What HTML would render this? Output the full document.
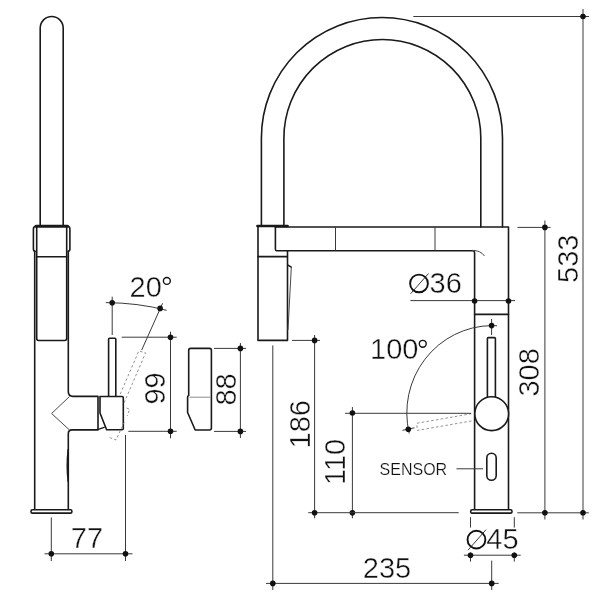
<!DOCTYPE html>
<html>
<head>
<meta charset="utf-8">
<style>
html,body{margin:0;padding:0;background:#fff;}
body{width:600px;height:600px;overflow:hidden;}
svg{display:block;}
text{font-family:"Liberation Sans",sans-serif;fill:#111;stroke:#fff;stroke-width:0.4px;paint-order:fill stroke;}
.o{fill:none;stroke:#1a1a1a;stroke-width:1.6;stroke-linejoin:round;stroke-linecap:round;}
.of{fill:#fff;stroke:#1a1a1a;stroke-width:1.6;stroke-linejoin:round;}
.k{fill:none;stroke:#1a1a1a;stroke-width:3;stroke-linecap:round;}
.d{fill:none;stroke:#3a3a3a;stroke-width:1;}
.t{fill:none;stroke:#4a4a4a;stroke-width:1;}
.h{fill:none;stroke:#777;stroke-width:0.8;stroke-dasharray:2.6 2.2;}
.p{fill:#111;stroke:none;}
.oslash ellipse{fill:none;stroke:#111;stroke-width:1.9;}
.deg{fill:none;stroke:#111;stroke-width:1.4;}
.oslash path{fill:none;stroke:#222;stroke-width:0.9;}
</style>
</head>
<body>
<svg width="600" height="600" viewBox="0 0 600 600">
<rect width="600" height="600" fill="#fff"/>

<!-- ================= LEFT (side view) ================= -->
<g id="left">
  <!-- tube -->
  <path class="o" d="M40.2 226 V28 A11.5 11.5 0 0 1 63.2 28 V226"/>
  <!-- collar -->
  <path class="k" d="M36 226.3 H67.5"/>
  <path class="o" d="M36 226.3 Q33.4 226.6 33.4 229 V249 Q33.4 251.2 35.2 251.2 M67.5 226.3 Q69.9 226.6 69.9 229 V249 Q69.9 251.2 68.2 251.2"/>
  <path class="o" d="M36.7 227 V338.6 Q36.7 340.5 38.6 340.5 H64.8 Q66.7 340.5 66.7 338.6 V227"/>
  <path class="o" d="M36.7 256.8 H66.7"/>
  <!-- body outer -->
  <path class="o" d="M34.7 251.2 V509.5"/>
  <path class="o" d="M68.3 251.2 V391.5 Q68.3 396.4 73 396.4 H98 V429.9 H72 Q68.3 429.9 68.3 433.6 V509.5"/>
  <path class="o" d="M100 396.5 H122 Q123.3 396.5 123.3 397.8 V428.5 Q123.3 429.8 122 429.8 H106.6 L100 413 Z"/>
  <path class="o" d="M98.2 429.3 L104.2 427.3" style="stroke-width:1.4"/>
  <path class="o" d="M68.2 449.5 Q66.3 465.5 68.2 481.5" style="stroke-width:1.5"/>
  <!-- triangle -->
  <path class="t" d="M69.5 396.5 L51.6 413.5 L69.5 430"/>
  <!-- lever -->
  <path class="o" d="M108.6 396 V339.3 Q108.6 338.3 109.6 338.3 H114.8 Q115.8 338.3 115.8 339.3 V396"/>
  <!-- base plate -->
  <rect class="of" x="31" y="509.8" width="40.9" height="3.3" rx="1.4"/>
  <!-- dashed lever -->
  <path class="h" d="M120.3 394 L138.8 351 L145.6 352.8 L123.8 403.5 M126.5 408 L129.6 409.2 L127.2 416 M124.3 422 L116 440 L109.5 437.5"/>
  <!-- 20deg dim -->
  <path class="d" d="M112.2 296.7 V335"/>
  <path class="d" d="M162.6 303.3 L141.7 350"/>
  <path class="d" d="M105.8 302.6 Q138 302.8 166.7 310.3"/>
  <circle class="p" cx="112.2" cy="302.8" r="2.8"/>
  <circle class="p" cx="160.1" cy="308.4" r="2.8"/>
  <!-- 99 dim -->
  <path class="d" d="M121.7 337.2 H176.7 M128.3 431.3 H176.7 M170.5 331.7 V438.3"/>
  <circle class="p" cx="170.5" cy="337.2" r="2.8"/>
  <circle class="p" cx="170.5" cy="431.3" r="2.8"/>
  <!-- 77 dim -->
  <path class="d" d="M51.3 517.5 V561 M125.5 435 V561 M44.5 553.8 H132.5"/>
  <circle class="p" cx="51.3" cy="553.8" r="2.8"/>
  <circle class="p" cx="125.5" cy="553.8" r="2.8"/>
</g>

<!-- ================= MIDDLE piece ================= -->
<g id="mid">
  <path class="o" d="M188.7 395.4 V350.4 Q188.7 348.4 190.7 348.4 H209.4 Q211.4 348.4 211.4 350.4 V428 Q211.4 430 209.4 430 H195.2 L187.6 412.5 V397 Q187.6 395.8 188.7 395.4"/>
  <path class="t" d="M189.5 397.2 H210.5" style="stroke:#8a8a8a"/>
  <path class="d" d="M214 348.4 H246 M214 431.4 H246 M240.4 343 V438"/>
  <circle class="p" cx="240.4" cy="348.4" r="2.8"/>
  <circle class="p" cx="240.4" cy="431.4" r="2.8"/>
</g>

<!-- ================= RIGHT (front view) ================= -->
<g id="right">
  <!-- arch -->
  <path class="o" d="M261.4 226 V138 A120.55 120.55 0 0 1 502.5 138 V227"/>
  <path class="o" d="M283.9 226 V138 A98.45 98.45 0 0 1 480.8 138 V227"/>
  <!-- cap -->
  <path class="k" d="M257.4 226.05 H287.6" style="stroke-width:2.5"/>
  <!-- arm + body -->
  <path class="o" d="M275.4 227 H508.5 V509.5"/>
  <path class="o" d="M275.4 227 V249 Q275.4 250.8 276.6 250.8 H472.4 Q474.6 250.8 474.6 253 V509.5"/>
  <path class="d" d="M335.5 227 V250.5 M435 227 V250.5"/>
  <path class="t" d="M472 250.3 Q480.5 250.3 484.5 256"/>
  <path class="o" d="M474.6 314.4 H508.5"/>
  <!-- spray head -->
  <path class="o" d="M258 226.5 V340.4 H287.5 V250.8"/>
  <path class="o" d="M258 256.6 H287"/>
  <path class="o" d="M287.6 264.8 L291.3 267.2" style="stroke-width:1.4"/>
  <path class="t" d="M291.3 267.2 L288 330"/>
  <!-- lever -->
  <path class="o" d="M487.4 398 V338.6 Q487.4 337.6 488.4 337.6 H494.4 Q495.4 337.6 495.4 338.6 V398"/>
  <!-- dashed lever -->
  <path class="h" d="M471.5 413.7 L416.7 423.3 L417.3 430.4 L473 420.7"/>
  <circle class="of" cx="491.7" cy="413.7" r="16.9"/>
  <!-- sensor -->
  <rect class="o" x="486.8" y="453.2" width="9.4" height="27" rx="4.7"/>
  <path class="d" d="M456.5 468.8 H483"/>
  <!-- base plate -->
  <rect class="of" x="470.7" y="509.8" width="41.3" height="3.3" rx="1.4"/>

  <!-- O36 -->
  <path class="d" d="M410.4 300.6 H515"/>
  <circle class="p" cx="474.6" cy="301" r="2.8"/>
  <circle class="p" cx="508.5" cy="301" r="2.8"/>
  <!-- 100 deg arc -->
  <path class="d" d="M497 325.8 Q494 325.6 491.6 325.6 A85.6 87.4 0 0 0 409.2 433.5"/>
  <path class="d" d="M491.6 319 V335"/>
  <path class="d" d="M402.5 430.3 L414.5 427.8"/>
  <circle class="p" cx="491.6" cy="325.6" r="2.8"/>
  <circle class="p" cx="408.3" cy="429.3" r="2.8"/>
  <!-- 110 / 186 -->
  <path class="d" d="M345 413.3 H471 M352.4 407 V518.3"/>
  <circle class="p" cx="352.4" cy="413" r="2.8"/>
  <circle class="p" cx="352.4" cy="512.7" r="2.8"/>
  <path class="d" d="M292 340.4 H320 M314.6 335 V518.3 M308.3 512.7 H458.7"/>
  <circle class="p" cx="314.6" cy="340.4" r="2.8"/>
  <circle class="p" cx="314.6" cy="512.7" r="2.8"/>
  <!-- 308 / 533 -->
  <path class="d" d="M517.3 512.8 H588.8 M544.9 220.5 V519.5 M583 9 V519.5 M517.5 227.4 H550.5 M413.3 16.5 H589"/>
  <circle class="p" cx="544.9" cy="227.4" r="2.8"/>
  <circle class="p" cx="544.9" cy="512.8" r="2.8"/>
  <circle class="p" cx="583" cy="16.5" r="2.8"/>
  <circle class="p" cx="583" cy="512.8" r="2.8"/>
  <!-- O45 -->
  <path class="d" d="M470.5 517.2 V527.6 M470.5 552.4 V561.6 M514.3 517.2 V527.6 M514.3 552.4 V561.6 M463.9 555.2 H520.7"/>
  <circle class="p" cx="470.5" cy="555.2" r="2.8"/>
  <circle class="p" cx="514.3" cy="555.2" r="2.8"/>
  <!-- 235 -->
  <path class="d" d="M272.8 345.4 V590 M491.7 560.6 V590 M266 583.4 H498.7"/>
  <circle class="p" cx="272.8" cy="583.4" r="2.8"/>
  <circle class="p" cx="491.7" cy="583.4" r="2.8"/>
</g>

<!-- ================= TEXT ================= -->
<g id="txt" font-size="29" style="opacity:0.999">
  <text id="t20" x="129.5" y="297">20</text>
  <circle class="deg" cx="166.85" cy="280.9" r="3.45"/>
  <text id="t77" x="70.8" y="548.1">77</text>
  <text id="t235" x="362.8" y="577.6">235</text>
  <text id="t100" x="370" y="359">100</text>
  <circle class="deg" cx="422.75" cy="343.8" r="3.45"/>
  <g class="oslash"><ellipse cx="419" cy="283.45" rx="8.9" ry="8.85"/><path d="M410.6 293.8 L428.5 273.5"/></g>
  <text id="t36" x="429.5" y="292.9">36</text>
  <g class="oslash"><ellipse cx="476.45" cy="539.65" rx="8.9" ry="8.85"/><path d="M468 550.2 L486 529.7"/></g>
  <text id="t45" x="486.3" y="549.3">45</text>
  <text id="t99" transform="translate(165.4 404.6) rotate(-90)">99</text>
  <text id="t88" transform="translate(236 405.6) rotate(-90)">88</text>
  <text id="t186" transform="translate(309.7 448.5) rotate(-90)">186</text>
  <text id="t110" transform="translate(345 485) rotate(-90)">110</text>
  <text id="t308" transform="translate(539.4 396.6) rotate(-90)">308</text>
  <text id="t533" transform="translate(578 283) rotate(-90)">533</text>
  <text id="tsen" x="379.6" y="475" font-size="16.4" textLength="67.6" lengthAdjust="spacingAndGlyphs" style="stroke-width:0.2px">SENSOR</text>
</g>
</svg>
</body>
</html>
